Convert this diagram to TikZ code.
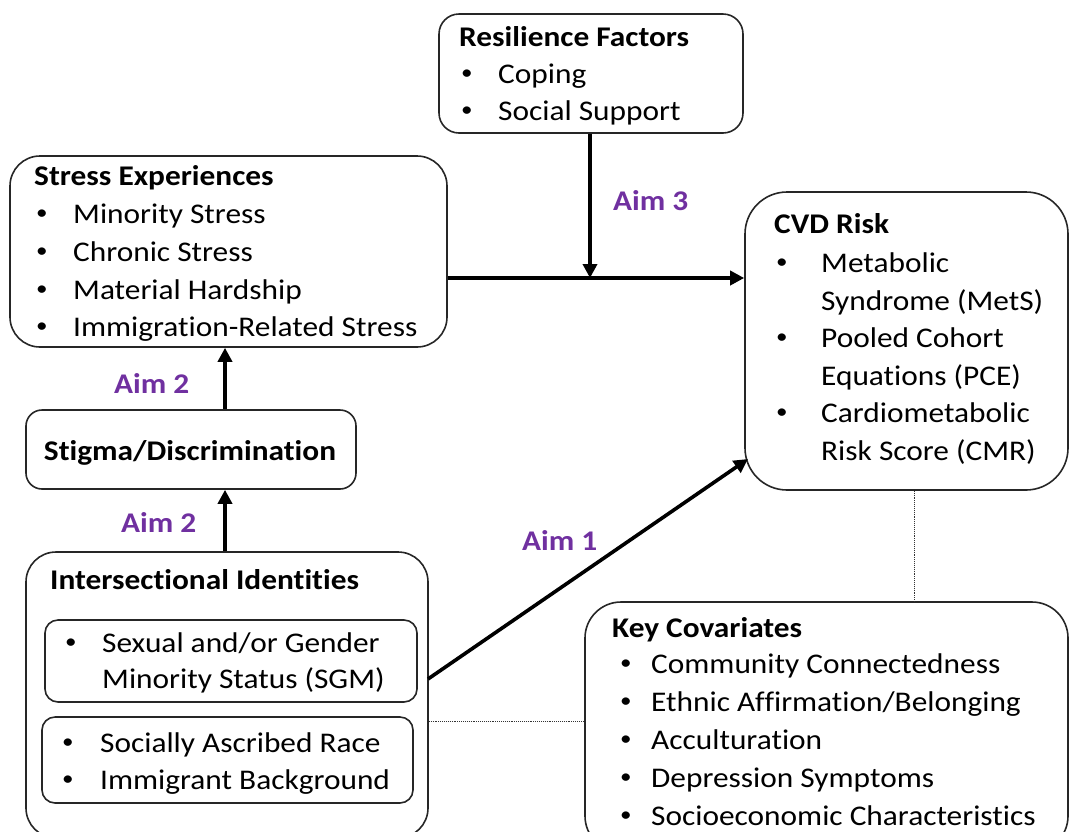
\documentclass[tikz,border=0pt]{standalone}
\usepackage{fontspec}
\setmainfont{Carlito}[FakeStretch=1.10,RawFeature=-liga]
\usetikzlibrary{arrows.meta}
\definecolor{aimpurple}{HTML}{7030A0}
\begin{document}
\begin{tikzpicture}[x=1pt,y=-1pt,
  box/.style={draw=black!85,line width=1.6pt,fill=none},
  txt/.style={anchor=base west,inner sep=0pt,font=\fontsize{28.5}{32}\selectfont},
  bul/.style={anchor=base west,inner sep=0pt,font=\fontsize{21}{24}\selectfont,yshift=3.5pt},
  ttl/.style={anchor=base west,inner sep=0pt,font=\fontsize{28.5}{32}\selectfont\bfseries},
  aim/.style={anchor=base west,inner sep=0pt,font=\fontsize{28.5}{32}\selectfont\bfseries,text=aimpurple},
  arr/.style={line width=3.6pt,-{Triangle[length=14pt,width=14pt]}},
  dotl/.style={densely dotted,line width=0.9pt,black!80}]
\useasboundingbox (0,0) rectangle (1070,831);
\begin{scope}
\clip (0,0) rectangle (1070,831);
% boxes
\node[box,rounded corners=20pt,minimum width=304pt,minimum height=119pt] (res) at (591,73.5) {};
\node[box,rounded corners=30pt,minimum width=437pt,minimum height=191pt] (stress) at (228.5,251.5) {};
\node[box,rounded corners=42pt,minimum width=323pt,minimum height=298pt] (cvd) at (906.5,341) {};
\node[box,rounded corners=16pt,minimum width=330pt,minimum height=79pt] (stig) at (191,449.5) {};
\node[box,rounded corners=30pt,minimum width=402pt,minimum height=286pt] (inter) at (227,695) {};
\node[box,rounded corners=13pt,minimum width=372pt,minimum height=82pt] (sgm) at (231,661) {};
\node[box,rounded corners=13pt,minimum width=371pt,minimum height=86pt] (race) at (227.5,760) {};
\node[box,rounded corners=36pt,minimum width=483pt,minimum height=250pt] (cov) at (826.5,727) {};
\end{scope}
% Resilience text
\node[ttl] (resT) at (459,46) {Resilience Factors};
\node[bul] (resB1) at (461,83) {•};
\node[txt] (resI1) at (498,83) {Coping};
\node[bul] (resB2) at (461,120) {•};
\node[txt] (resI2) at (498,120) {Social Support};
% Stress text
\node[ttl] (stT) at (34,185) {Stress Experiences};
\node[bul] (stB1) at (36,223) {•};
\node[txt] (stI1) at (73,223) {Minority Stress};
\node[bul] (stB2) at (36,261) {•};
\node[txt] (stI2) at (73,261) {Chronic Stress};
\node[bul] (stB3) at (36,299) {•};
\node[txt] (stI3) at (73,299) {Material Hardship};
\node[bul] (stB4) at (36,336) {•};
\node[txt] (stI4) at (73,336) {Immigration-Related Stress};
% CVD text
\node[ttl] (cvT) at (774,233) {CVD Risk};
\node[bul] (cvB1) at (776,272) {•};
\node[txt] (cvI1) at (821,272) {Metabolic};
\node[txt] (cvI1b) at (821,310) {Syndrome (MetS)};
\node[bul] (cvB2) at (776,347) {•};
\node[txt] (cvI2) at (821,347) {Pooled Cohort};
\node[txt] (cvI2b) at (821,385) {Equations (PCE)};
\node[bul] (cvB3) at (776,422) {•};
\node[txt] (cvI3) at (821,422) {Cardiometabolic};
\node[txt] (cvI3b) at (821,460) {Risk Score (CMR)};
% Stigma text
\node[anchor=base,inner sep=0pt,font=\fontsize{28.5}{32}\selectfont\bfseries] (stgT) at (190,460) {Stigma/Discrimination};
% Intersectional text
\node[ttl] (inT) at (50,589) {Intersectional Identities};
\node[bul] (inB1) at (65,652) {•};
\node[txt] (inI1) at (102,652) {Sexual and/or Gender};
\node[txt] (inI1b) at (102,688) {Minority Status (SGM)};
\node[bul] (inB2) at (62,752) {•};
\node[txt] (inI2) at (100,752) {Socially Ascribed Race};
\node[bul] (inB3) at (62,789) {•};
\node[txt] (inI3) at (100,789) {Immigrant Background};
% Covariates text
\node[ttl] (cvtT) at (612,637) {Key Covariates};
\node[bul] (cvtB1) at (620,673) {•};
\node[txt] (cvtI1) at (651,673) {Community Connectedness};
\node[bul] (cvtB2) at (620,711) {•};
\node[txt] (cvtI2) at (651,711) {Ethnic Affirmation/Belonging};
\node[bul] (cvtB3) at (620,749) {•};
\node[txt] (cvtI3) at (651,749) {Acculturation};
\node[bul] (cvtB4) at (620,787) {•};
\node[txt] (cvtI4) at (651,787) {Depression Symptoms};
\node[bul] (cvtB5) at (620,825) {•};
\node[txt] (cvtI5) at (651,825) {Socioeconomic Characteristics};
% aim labels
\node[aim] (aim3) at (613,210) {Aim 3};
\node[aim] (aim2a) at (114,393) {Aim 2};
\node[aim] (aim2b) at (121,532) {Aim 2};
\node[aim] (aim1) at (522,550) {Aim 1};
% connectors
\coordinate (j) at (590,278);
\coordinate (a1s) at (428,679);
\coordinate (a1e) at (748,459);
\draw[arr] (stress.east |- j) -- (cvd.west |- j);
\draw[arr] (res.south -| j) -- (j);
\draw[arr] (stig.north -| 225,0) -- (stress.south -| 225,0);
\draw[arr] (inter.north -| 225,0) -- (stig.south -| 225,0);
\draw[arr] (a1s) -- (a1e);
\draw[dotl] (cvd.south -| 914,0) -- (cov.north -| 914,0);
\draw[dotl] (inter.east |- 0,721) -- (cov.west |- 0,721);
\end{tikzpicture}
\end{document}
